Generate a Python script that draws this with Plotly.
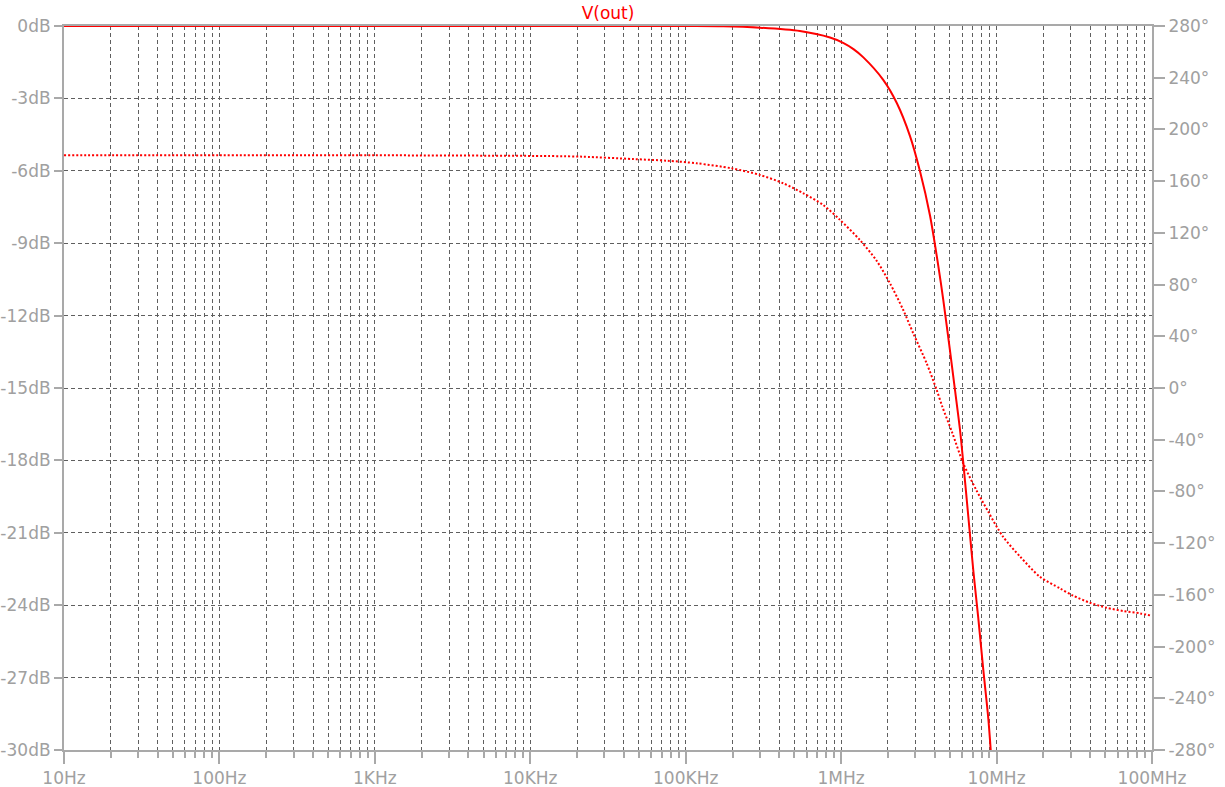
import plotly.graph_objects as go

# Magnitude (dB) vs frequency (Hz)
mag_freq = [10, 1e3, 1e5, 174e3, 300e3, 543e3, 848e3, 1.03e6, 1.2e6, 1.39e6, 1.87e6, 2.28e6,
            2.77e6, 3.21e6, 3.73e6, 4.22e6, 4.54e6, 5.01e6, 5.40e6, 5.82e6, 6.11e6,
            6.58e6, 7.08e6, 7.63e6, 8.22e6, 8.85e6, 9.17e6]
mag_db = [0.0, 0.0, 0.0, -0.01, -0.07, -0.21, -0.48, -0.70, -0.96, -1.30, -2.24, -3.19,
          -4.55, -6.00, -7.85, -9.95, -11.35, -13.43, -15.08, -16.74, -18.11,
          -20.33, -22.54, -24.55, -26.69, -28.70, -30.0]

# Phase (degrees) vs frequency (Hz)
ph_freq = [10, 100, 1e3, 13.4e3, 21.8e3, 45.8e3, 75.8e3, 118e3, 198e3, 300e3, 425e3,
           571e3, 768e3, 984e3, 1.32e6, 1.69e6, 2.06e6, 2.51e6, 2.91e6, 3.55e6,
           4.12e6, 4.48e6, 5.20e6, 6.11e6, 7.41e6, 8.85e6, 11.0e6, 14.2e6, 19.0e6,
           25.6e6, 31.2e6, 39.9e6, 51.2e6, 65.4e6, 83.8e6, 100e6]
ph_deg = [180.0, 180.0, 180.0, 179.4, 178.9, 177.1, 175.8, 173.8, 169.9, 164.8, 158.3,
          150.6, 141.5, 130.0, 114.5, 98.5, 81.0, 60.3, 42.3, 19.1,
          -1.6, -14.5, -35.0, -58.4, -79.0, -95.8, -115.0, -130.5, -146.0,
          -155.0, -160.7, -166.1, -170.0, -172.5, -174.3, -176.2]

x_tickvals = [10, 100, 1e3, 1e4, 1e5, 1e6, 1e7, 1e8]
x_ticktext = ["10Hz", "100Hz", "1KHz", "10KHz", "100KHz", "1MHz", "10MHz", "100MHz"]
x_minor = [m * 10 ** d for d in range(1, 8) for m in range(2, 10)]

y_tickvals = list(range(0, -31, -3))
y_ticktext = [f"{v}dB" for v in y_tickvals]
y2_tickvals = list(range(280, -281, -40))
y2_ticktext = [f"{v}°" for v in y2_tickvals]

AXIS = "#a9a9a9"
LABEL = "#a0a0a0"
GRID = "#5f5f5f"
FONT = "DejaVu Sans"

W, H = 1225, 787

fig = go.Figure()
fig.add_trace(go.Scatter(x=ph_freq, y=ph_deg, yaxis="y2", mode="lines",
                         line=dict(color="#ff0000", width=2, dash="2px,2px", shape="spline",
                                   smoothing=0.8),
                         hoverinfo="skip", showlegend=False))
fig.add_trace(go.Scatter(x=mag_freq, y=mag_db, mode="lines",
                         line=dict(color="#ff0000", width=2, shape="spline", smoothing=0.8),
                         hoverinfo="skip", showlegend=False))

fig.update_layout(
    width=W, height=H,
    margin=dict(l=64, r=73, t=26, b=37),
    paper_bgcolor="white", plot_bgcolor="white",
    font=dict(family=FONT, size=17, color=LABEL),
    title=dict(text="V(out)", x=0.5, xref="paper", y=1 - 13 / H, yanchor="middle",
               xanchor="center", font=dict(family=FONT, size=17, color="#ff0000")),
    xaxis=dict(type="log", range=[1, 8], tickmode="array", tickvals=x_tickvals,
               ticktext=x_ticktext, ticks="outside", ticklen=12, tickwidth=2,
               tickcolor=AXIS, showline=True, linecolor=AXIS, linewidth=2, mirror=True,
               showgrid=True, gridcolor=GRID, griddash="4px,3px", gridwidth=1,
               zeroline=False, automargin=False, tickfont=dict(size=17, color=LABEL),
               minor=dict(tickmode="array", tickvals=x_minor, ticks="outside", ticklen=6,
                          tickwidth=2, tickcolor=AXIS, showgrid=True, gridcolor=GRID,
                          griddash="4px,3px", gridwidth=1)),
    yaxis=dict(range=[-30, 0], tickmode="array", tickvals=y_tickvals, ticktext=y_ticktext,
               ticks="outside", ticklen=8, tickwidth=2, tickcolor=AXIS,
               showline=True, linecolor=AXIS, linewidth=2, automargin=False,
               showgrid=True, gridcolor=GRID, griddash="4px,3px", gridwidth=1,
               zeroline=False, tickfont=dict(size=17, color=LABEL)),
    yaxis2=dict(range=[-280, 280], overlaying="y", side="right", tickmode="array",
                tickvals=y2_tickvals, ticktext=y2_ticktext, ticks="outside", ticklen=11,
                tickwidth=2, tickcolor=AXIS, showline=True, linecolor=AXIS, linewidth=2,
                automargin=False, showgrid=False, zeroline=False,
                tickfont=dict(size=17, color=LABEL)),
)

# remove the default page margin so the figure fills the window exactly
fig.write_html("out.html", config={"displayModeBar": False},
               post_script="document.body.style.margin='0';document.body.style.overflow='hidden';")
